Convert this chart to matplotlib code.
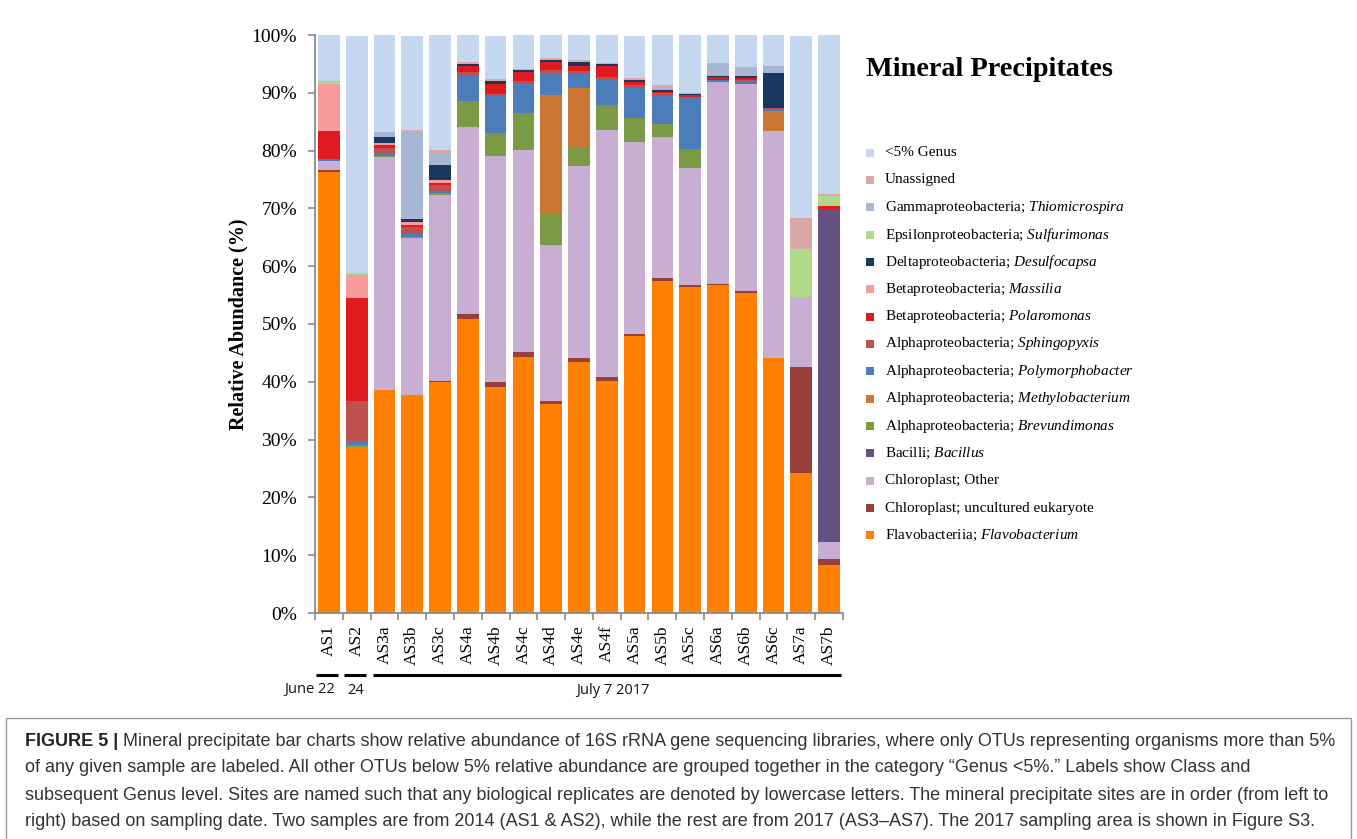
import matplotlib
matplotlib.use('Agg')
import matplotlib.pyplot as plt
import matplotlib.transforms as mtransforms
from matplotlib.patches import Rectangle
import numpy as np

plt.rcParams['mathtext.fontset'] = 'custom'
plt.rcParams['mathtext.rm'] = 'Liberation Serif'
plt.rcParams['mathtext.it'] = 'Liberation Serif:italic'
plt.rcParams['mathtext.bf'] = 'Liberation Serif:bold'

samples = ['AS1', 'AS2', 'AS3a', 'AS3b', 'AS3c', 'AS4a', 'AS4b', 'AS4c', 'AS4d', 'AS4e',
           'AS4f', 'AS5a', 'AS5b', 'AS5c', 'AS6a', 'AS6b', 'AS6c', 'AS7a', 'AS7b']

# relative abundance (%) per taxon, bottom of stack first
flavobacterium = [76.3, 28.8, 38.5, 37.8, 39.9, 50.9, 39.1, 44.3, 36.2, 43.4,
                  40.1, 48.0, 57.4, 56.4, 56.7, 55.4, 44.2, 24.3, 8.3]
chloro_uncult = [0.3, 0.0, 0.0, 0.0, 0.2, 0.9, 0.8, 0.9, 0.5, 0.8,
                 0.8, 0.3, 0.5, 0.3, 0.2, 0.3, 0.0, 18.2, 1.0]
chloro_other = [1.6, 0.0, 40.4, 27.0, 32.3, 32.2, 39.2, 34.9, 27.0, 33.1,
                42.7, 33.2, 24.5, 20.3, 34.9, 35.8, 39.2, 12.2, 2.9]
bacillus = [0, 0, 0, 0, 0, 0, 0, 0, 0, 0, 0, 0, 0, 0, 0, 0, 0, 0, 57.7]
brevundimonas = [0.0, 0.3, 0.2, 0.3, 0.2, 4.5, 3.9, 6.4, 5.3, 3.3,
                 4.3, 4.1, 2.2, 3.3, 0.0, 0.0, 0.0, 0.0, 0.0]
methylobacterium = [0, 0, 0, 0, 0, 0, 0, 0, 20.6, 10.2, 0, 0, 0, 0, 0, 0, 3.4, 0, 0]
polymorphobacter = [0.3, 0.6, 0.45, 0.55, 0.4, 4.5, 6.4, 5.1, 3.8, 2.5,
                    4.3, 5.3, 4.9, 8.9, 0.45, 0.45, 0.35, 0.0, 0.0]
sphingopyxis = [0.0, 7.0, 0.9, 1.1, 1.0, 0.6, 0.35, 0.45, 0.6, 0.4,
                0.6, 0.45, 0.4, 0.0, 0.0, 0.2, 0.3, 0.0, 0.0]
polaromonas = [4.9, 17.8, 0.5, 0.45, 0.35, 1.1, 1.8, 1.55, 1.4, 1.0,
               1.8, 0.6, 0.3, 0.45, 0.4, 0.4, 0.0, 0.0, 0.5]
massilia = [8.1, 4.0, 0.3, 0.4, 0.5, 0, 0, 0, 0, 0, 0, 0, 0, 0, 0, 0, 0, 0, 0]
desulfocapsa = [0.0, 0.0, 1.1, 0.5, 2.6, 0.2, 0.45, 0.3, 0.3, 0.6,
                0.4, 0.2, 0.2, 0.1, 0.3, 0.3, 6.0, 0.0, 0.0]
sulfurimonas = [0.3, 0.3, 0, 0, 0, 0, 0, 0, 0, 0, 0, 0, 0, 0, 0, 0, 0, 8.2, 1.7]
thiomicrospira = [0.0, 0.0, 0.9, 15.2, 2.1, 0, 0, 0, 0, 0,
                  0, 0, 0.6, 0, 2.2, 1.6, 1.2, 0, 0]
unassigned = [0.2, 0.0, 0.0, 0.2, 0.5, 0.4, 0.4, 0.3, 0.35, 0.3,
              0.2, 0.45, 0.3, 0.2, 0.0, 0.0, 0.0, 5.4, 0.35]
genus_lt5 = [8.4, 41.1, 16.9, 16.4, 19.9, 4.8, 7.5, 5.8, 4.0, 4.4,
             4.8, 7.3, 8.8, 10.0, 4.9, 5.6, 5.4, 31.6, 27.5]

series = [
    ('Flavobacteriia; $\\mathit{Flavobacterium}$', flavobacterium, '#ff8000'),
    ('Chloroplast; uncultured eukaryote', chloro_uncult, '#993f39'),
    ('Chloroplast; Other', chloro_other, '#c8aed3'),
    ('Bacilli; $\\mathit{Bacillus}$', bacillus, '#675083'),
    ('Alphaproteobacteria; $\\mathit{Brevundimonas}$', brevundimonas, '#7a9a46'),
    ('Alphaproteobacteria; $\\mathit{Methylobacterium}$', methylobacterium, '#cc7835'),
    ('Alphaproteobacteria; $\\mathit{Polymorphobacter}$', polymorphobacter, '#4a7dba'),
    ('Alphaproteobacteria; $\\mathit{Sphingopyxis}$', sphingopyxis, '#c0504d'),
    ('Betaproteobacteria; $\\mathit{Polaromonas}$', polaromonas, '#e01b1f'),
    ('Betaproteobacteria; $\\mathit{Massilia}$', massilia, '#f79b9b'),
    ('Deltaproteobacteria; $\\mathit{Desulfocapsa}$', desulfocapsa, '#17375e'),
    ('Epsilonproteobacteria; $\\mathit{Sulfurimonas}$', sulfurimonas, '#b0da8a'),
    ('Gammaproteobacteria; $\\mathit{Thiomicrospira}$', thiomicrospira, '#a7b6d2'),
    ('Unassigned', unassigned, '#d9a8a7'),
    ('<5% Genus', genus_lt5, '#c6d8ef'),
]

fig = plt.figure(figsize=(13.57, 8.39), dpi=100)
W, H = 1357, 839
ax = fig.add_axes([315 / W, 1 - 613 / H, 528 / W, 578 / H])

x = np.arange(len(samples))
bottom = np.zeros(len(samples))
for label, vals, color in series:
    vals = np.array(vals, dtype=float)
    ax.bar(x, vals, bottom=bottom, width=0.78, color=color, edgecolor='none', zorder=2)
    bottom += vals

ax.set_xlim(-0.5, len(samples) - 0.5)
ax.set_ylim(0, 100)
for s in ['top', 'right']:
    ax.spines[s].set_visible(False)
for s in ['left', 'bottom']:
    ax.spines[s].set_color('#8a8a8a')
    ax.spines[s].set_linewidth(1.3)

ax.set_yticks(np.arange(0, 101, 10))
ax.set_yticklabels([f'{v}%' for v in range(0, 101, 10)], family='Liberation Serif', fontsize=14)
ax.tick_params(axis='y', length=5, width=1.2, color='#8a8a8a', pad=8)

ax.set_xticks(x)
ax.set_xticklabels(samples, rotation=90, family='Liberation Serif', fontsize=12.5)
ax.set_xticks(np.arange(-0.5, len(samples), 1), minor=True)
ax.tick_params(axis='x', which='major', length=0, pad=9)
ax.tick_params(axis='x', which='minor', length=5, width=1.2, color='#8a8a8a')

ax.set_ylabel('Relative Abundance (%)', family='Liberation Serif', fontweight='bold',
              fontsize=14.5, labelpad=2)

# sampling date bars under the x labels
trans = mtransforms.blended_transform_factory(ax.transData, ax.transAxes)
ly = (613 - 675) / 578
ty = (613 - 690) / 578
for x0, x1 in [(-0.47, 0.31), (0.53, 1.33), (1.58, 18.42)]:
    ax.plot([x0, x1], [ly, ly], color='black', lw=2.2, transform=trans, clip_on=False,
            solid_capstyle='butt')
for xt, txt in [(-0.68, 'June 22'), (0.97, '24'), (10.22, 'July 7 2017')]:
    ax.text(xt, ty, txt, transform=trans, ha='center', va='center',
            family='Open Sans', fontsize=10.5, color='#111111')

# title and legend
fig.text(866 / W, 1 - 70 / H, 'Mineral Precipitates', family='Liberation Serif',
         fontweight='bold', fontsize=20.3, va='center', ha='left')
for i, (label, vals, color) in enumerate(series[::-1]):
    yc = 152.5 + i * 27.35
    fig.patches.append(Rectangle((866 / W, 1 - (yc + 4) / H), 8 / W, 8 / H,
                                 transform=fig.transFigure, facecolor=color,
                                 edgecolor='none'))
    fig.text(885 / W, 1 - yc / H, label, family='Liberation Serif', fontsize=11,
             va='center', ha='left')

# caption box
fig.patches.append(Rectangle((6 / W, -0.02), 1345 / W, 1 - 718 / H + 0.02,
                             transform=fig.transFigure, facecolor='none',
                             edgecolor='#9a9a9a', lw=1.0))
caption = [
    'Mineral precipitate bar charts show relative abundance of 16S rRNA gene sequencing libraries, where only OTUs representing organisms more than 5%',
    'of any given sample are labeled. All other OTUs below 5% relative abundance are grouped together in the category \u201cGenus <5%.\u201d Labels show Class and',
    'subsequent Genus level. Sites are named such that any biological replicates are denoted by lowercase letters. The mineral precipitate sites are in order (from left to',
    'right) based on sampling date. Two samples are from 2014 (AS1 & AS2), while the rest are from 2017 (AS3\u2013AS7). The 2017 sampling area is shown in Figure S3.',
]
cap_y = [741, 768, 795, 822]
cap_size = 13.0
renderer = fig.canvas.get_renderer()
head = fig.text(25 / W, 1 - cap_y[0] / H, 'FIGURE 5 | ', family='Liberation Sans',
                fontweight='bold', fontsize=cap_size, color='#222222', va='center')
hw = head.get_window_extent(renderer).width
fig.text((25 + hw) / W, 1 - cap_y[0] / H, caption[0], family='Liberation Sans',
         fontsize=cap_size, color='#333333', va='center')
for yy, line in zip(cap_y[1:], caption[1:]):
    fig.text(25 / W, 1 - yy / H, line, family='Liberation Sans', fontsize=cap_size,
             color='#333333', va='center')

fig.savefig('out.png', dpi=100)
